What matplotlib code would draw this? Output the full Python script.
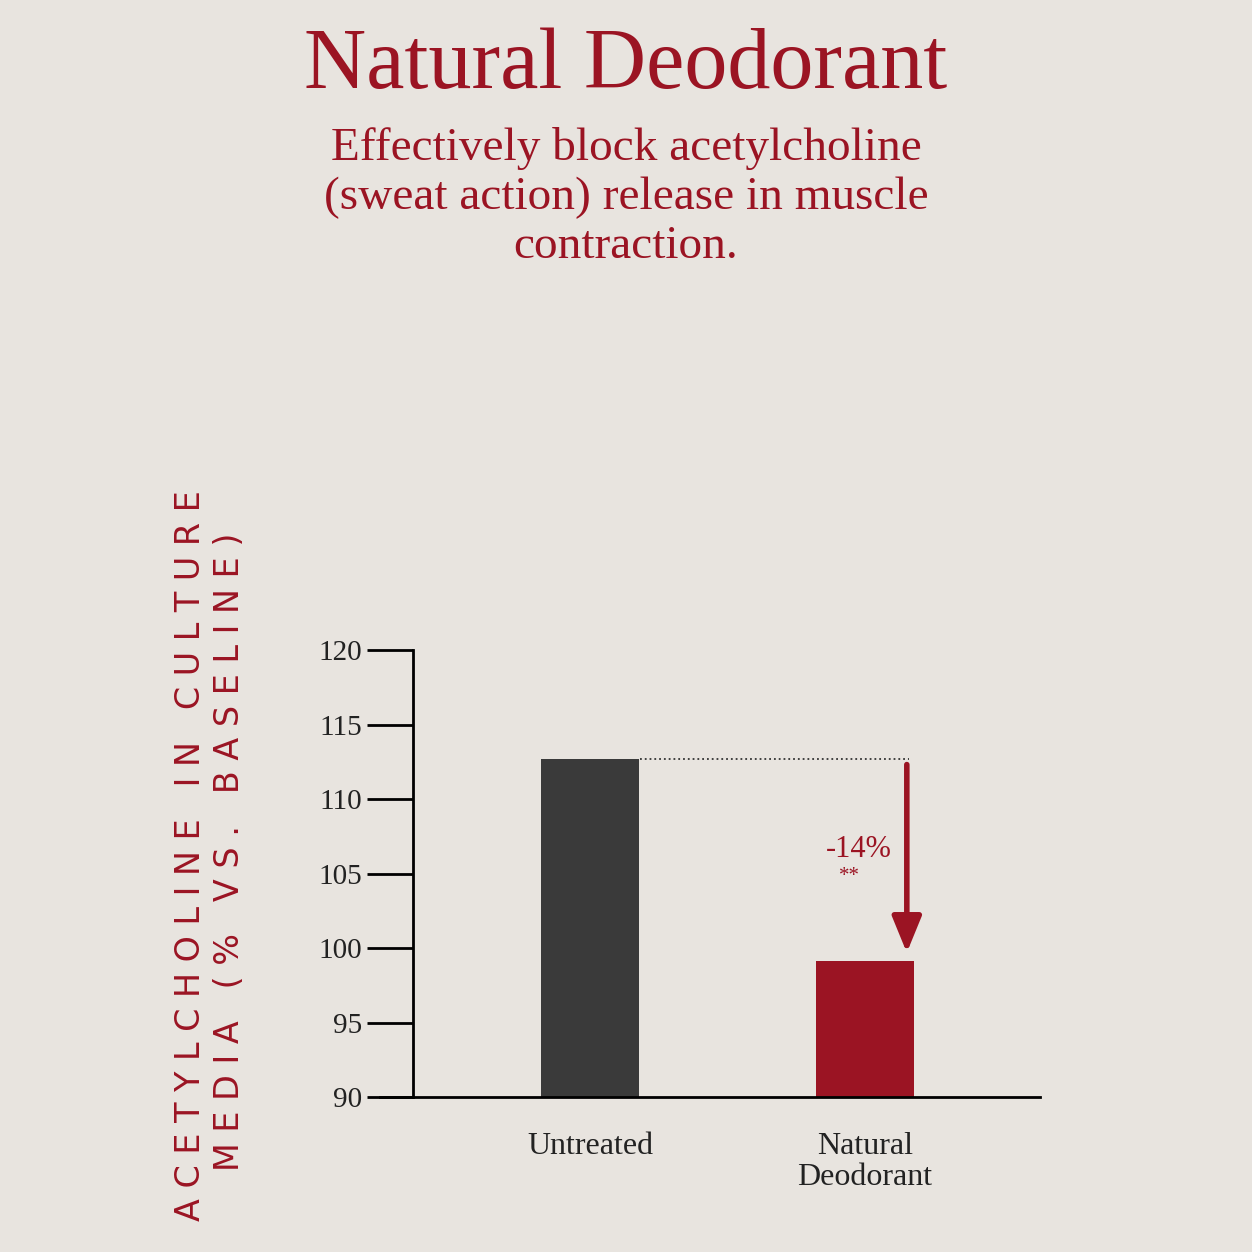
import matplotlib
matplotlib.use("Agg")
import matplotlib.pyplot as plt

categories = ["Untreated", "Natural\nDeodorant"]
values = [112.7, 99.1]
yticks = [90, 95, 100, 105, 110, 115, 120]
change_label = "-14%"
sig_label = "**"

bg = "#e8e4df"
red = "#9b1423"
dark = "#3a3a3a"
serif = "Liberation Serif"

fig = plt.figure(figsize=(12.52, 12.52), dpi=100, facecolor=bg)
ax = fig.add_axes([0.33, 0.1238, 0.501, 0.357], facecolor=bg)
xs = [0.282, 0.72]
ax.bar(xs, [v - 90 for v in values], bottom=90, width=0.156, color=[dark, red])
ax.set_xlim(0, 1)
ax.set_ylim(90, 120)
ax.set_yticks(yticks)
ax.set_yticklabels([str(t) for t in yticks], fontsize=21, family=serif, color="#222")
ax.tick_params(axis="y", length=33, width=2, pad=4)
ax.set_xticks(xs)
ax.set_xticklabels(categories, fontsize=23, family=serif, color="#222", linespacing=1.1)
ax.tick_params(axis="x", length=0, pad=25)
for s in ["top", "right"]:
    ax.spines[s].set_visible(False)
ax.spines["left"].set_linewidth(2)
ax.spines["bottom"].set_linewidth(2)
ax.spines["bottom"].set_bounds(-0.053, 1)

ax.plot([0.362, 0.79], [values[0], values[0]], ls=":", color="#333", lw=1.3)
ax.annotate("", xy=(0.787, values[1] + 0.4), xytext=(0.787, values[0] - 0.2),
            arrowprops=dict(arrowstyle="-|>,head_width=0.9,head_length=2.2", color=red, lw=4))
ax.text(0.71, 106.6, change_label, fontsize=22, family=serif, color=red, ha="center", va="center")
ax.text(0.695, 104.8, sig_label, fontsize=15, family=serif, color=red, ha="center", va="center")

fig.text(0.5, 0.946, "Natural Deodorant", fontsize=62, family=serif, color=red, ha="center", va="center")
fig.text(0.5, 0.842, "Effectively block acetylcholine\n(sweat action) release in muscle\ncontraction.",
         fontsize=34, family=serif, color=red, ha="center", va="center", linespacing=1.2)

l1 = " ".join("ACETYLCHOLINE IN CULTURE")
l2 = " ".join("MEDIA (% VS. BASELINE)")
fig.text(0.152, 0.317, l1, rotation=90, fontsize=24, color=red, ha="center", va="center", family="DejaVu Sans")
fig.text(0.183, 0.32, l2, rotation=90, fontsize=24, color=red, ha="center", va="center", family="DejaVu Sans")

fig.savefig("out.png", dpi=100, facecolor=bg)
